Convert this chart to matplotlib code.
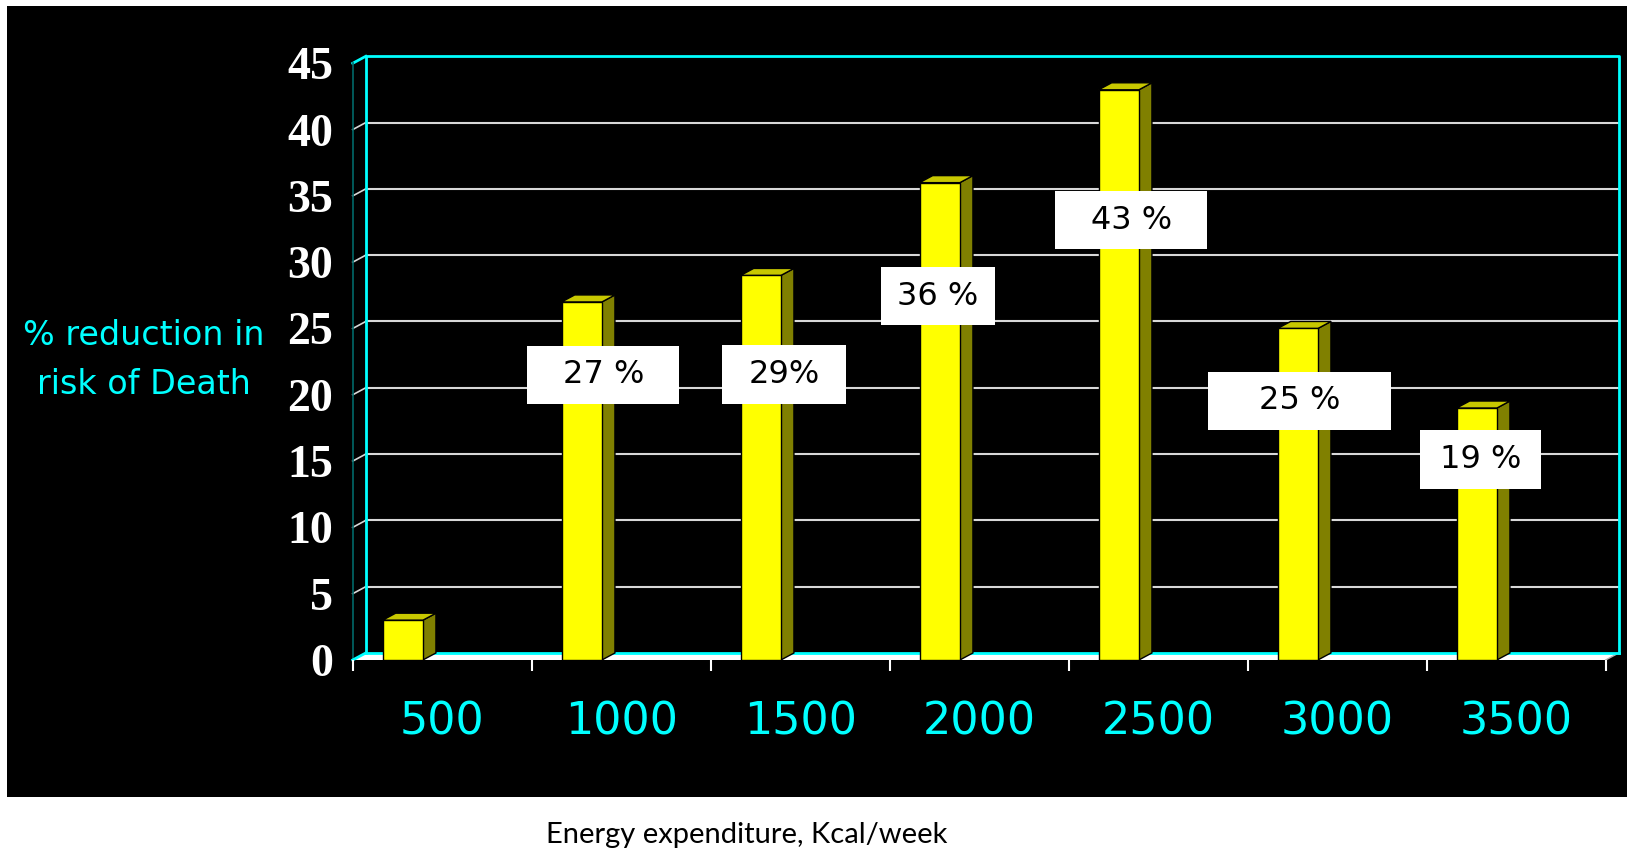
import matplotlib
matplotlib.use("Agg")
import matplotlib.pyplot as plt
from matplotlib.patches import Polygon, Rectangle

# Weekly energy expenditure groups and the reduction in risk of death (%)
energy_kcal = ["500", "1000", "1500", "2000", "2500", "3000", "3500"]
risk_reduction = [3, 27, 29, 36, 43, 25, 19]
value_labels = [None, "27 %", "29%", "36 %", "43 %", "25 %", "19 %"]
y_ticks = [0, 5, 10, 15, 20, 25, 30, 35, 40, 45]

# Call-out boxes: (category position, value position, box width) in data units
callout_boxes = [None, (1.40, 21.5, 0.85), (2.41, 21.54, 0.69), (3.27, 27.43, 0.64),
                 (4.35, 33.18, 0.85), (5.29, 19.55, 1.02), (6.30, 15.12, 0.68)]
CALLOUT_H = 4.4

# Colours
CYAN = "#00FFFF"
GRID = "#D8D8D8"
FRONT = "#FFFF00"
SIDE = "#808000"
TOP = "#C8C800"
WALL_EDGE = "#006868"

W, H = 1627, 850
fig = plt.figure(figsize=(W / 100, H / 100), dpi=100)
fig.patch.set_facecolor("white")

# black slide background
fig.add_artist(Rectangle((7 / W, 1 - 797 / H), 1 - 7 / W, (797 - 6) / H,
                         transform=fig.transFigure, facecolor="black",
                         edgecolor="none", zorder=0))

# front plane of the 3-D plot area
ax = fig.add_axes([352.7 / W, 190 / H, 1253 / W, 596.7 / H])
ax.patch.set_visible(False)
n = len(energy_kcal)
ax.set_xlim(0, n)
ax.set_ylim(0, y_ticks[-1])
for s in ax.spines.values():
    s.set_visible(False)

# depth offset of the back wall (data units)
dx, dy = 0.073, 0.53
top = y_ticks[-1]

# floor
ax.add_patch(Polygon([(0, 0), (n, 0), (n + dx, dy), (dx, dy)], closed=True,
                     facecolor="white", edgecolor="none", zorder=1, clip_on=False))
ax.plot([dx, n + dx], [dy, dy], color=CYAN, lw=2, zorder=1.2, clip_on=False)
ax.plot([0, dx], [0, dy], color=CYAN, lw=2, zorder=1.2, clip_on=False)

# back wall gridlines and left-wall diagonals
for v in y_ticks[1:-1]:
    ax.plot([dx, n + dx], [v + dy, v + dy], color=GRID, lw=1.5, zorder=1, clip_on=False)
    ax.plot([0, dx], [v, v + dy], color=GRID, lw=1.2, zorder=1, clip_on=False)

# back wall border
ax.plot([dx, dx, n + dx, n + dx], [dy, top + dy, top + dy, dy],
        color=CYAN, lw=2, zorder=1.1, clip_on=False)
ax.plot([0, dx], [top, top + dy], color=CYAN, lw=2, zorder=1.1, clip_on=False)
# left wall front edge
ax.plot([0, 0], [0, top], color=WALL_EDGE, lw=1.2, zorder=1.1, clip_on=False)
# right floor edge
ax.plot([n, n + dx], [0, dy], color="#B0B0B0", lw=1, zorder=1.1, clip_on=False)

# 3-D columns
bar_off, bar_w = 0.167, 0.225
for i, v in enumerate(risk_reduction):
    x0 = i + bar_off
    x1 = x0 + bar_w
    ax.add_patch(Polygon([(x1, 0), (x1 + dx, dy), (x1 + dx, v + dy), (x1, v)],
                         closed=True, facecolor=SIDE, edgecolor="black", lw=1,
                         zorder=3, clip_on=False))
    ax.add_patch(Polygon([(x0, v), (x1, v), (x1 + dx, v + dy), (x0 + dx, v + dy)],
                         closed=True, facecolor=TOP, edgecolor="black", lw=1,
                         zorder=3, clip_on=False))
    ax.add_patch(Rectangle((x0, 0), bar_w, v, facecolor=FRONT, edgecolor="black",
                           lw=1, zorder=4, clip_on=False))

# value call-outs
for lab, box in zip(value_labels, callout_boxes):
    if lab is None:
        continue
    cx, cy, bw = box
    ax.add_patch(Rectangle((cx - bw / 2, cy - CALLOUT_H / 2), bw, CALLOUT_H,
                           facecolor="white", edgecolor="none", zorder=5, clip_on=False))
    ax.text(cx, cy, lab, ha="center", va="center", fontsize=23, color="black",
            family="DejaVu Sans", zorder=6)

# axes ticks and labels
ax.set_xticks([i + 0.5 for i in range(n)], energy_kcal)
ax.set_xticks(range(n + 1), minor=True)
ax.tick_params(axis="x", which="major", length=0, pad=29, labelsize=32,
               labelcolor=CYAN)
ax.tick_params(axis="x", which="minor", length=8, width=1.5, color="white",
               direction="out")
for t in ax.get_xticklabels():
    t.set_family("DejaVu Sans")

ax.set_yticks(y_ticks, [str(v) for v in y_ticks])
ax.tick_params(axis="y", length=0, pad=14, labelsize=33, labelcolor="white")
for t in ax.get_yticklabels():
    t.set_family("Liberation Serif")
    t.set_fontweight("bold")

fig.text(144 / W, 1 - 360 / H, "% reduction in\nrisk of Death", ha="center",
         va="center", color=CYAN, fontsize=24, family="DejaVu Sans",
         linespacing=1.62)

fig.text(747 / W, 1 - 835 / H, "Energy expenditure, Kcal/week", ha="center",
         va="center", color="black", fontsize=21, family="Lato")

fig.savefig("out.png", dpi=100)
